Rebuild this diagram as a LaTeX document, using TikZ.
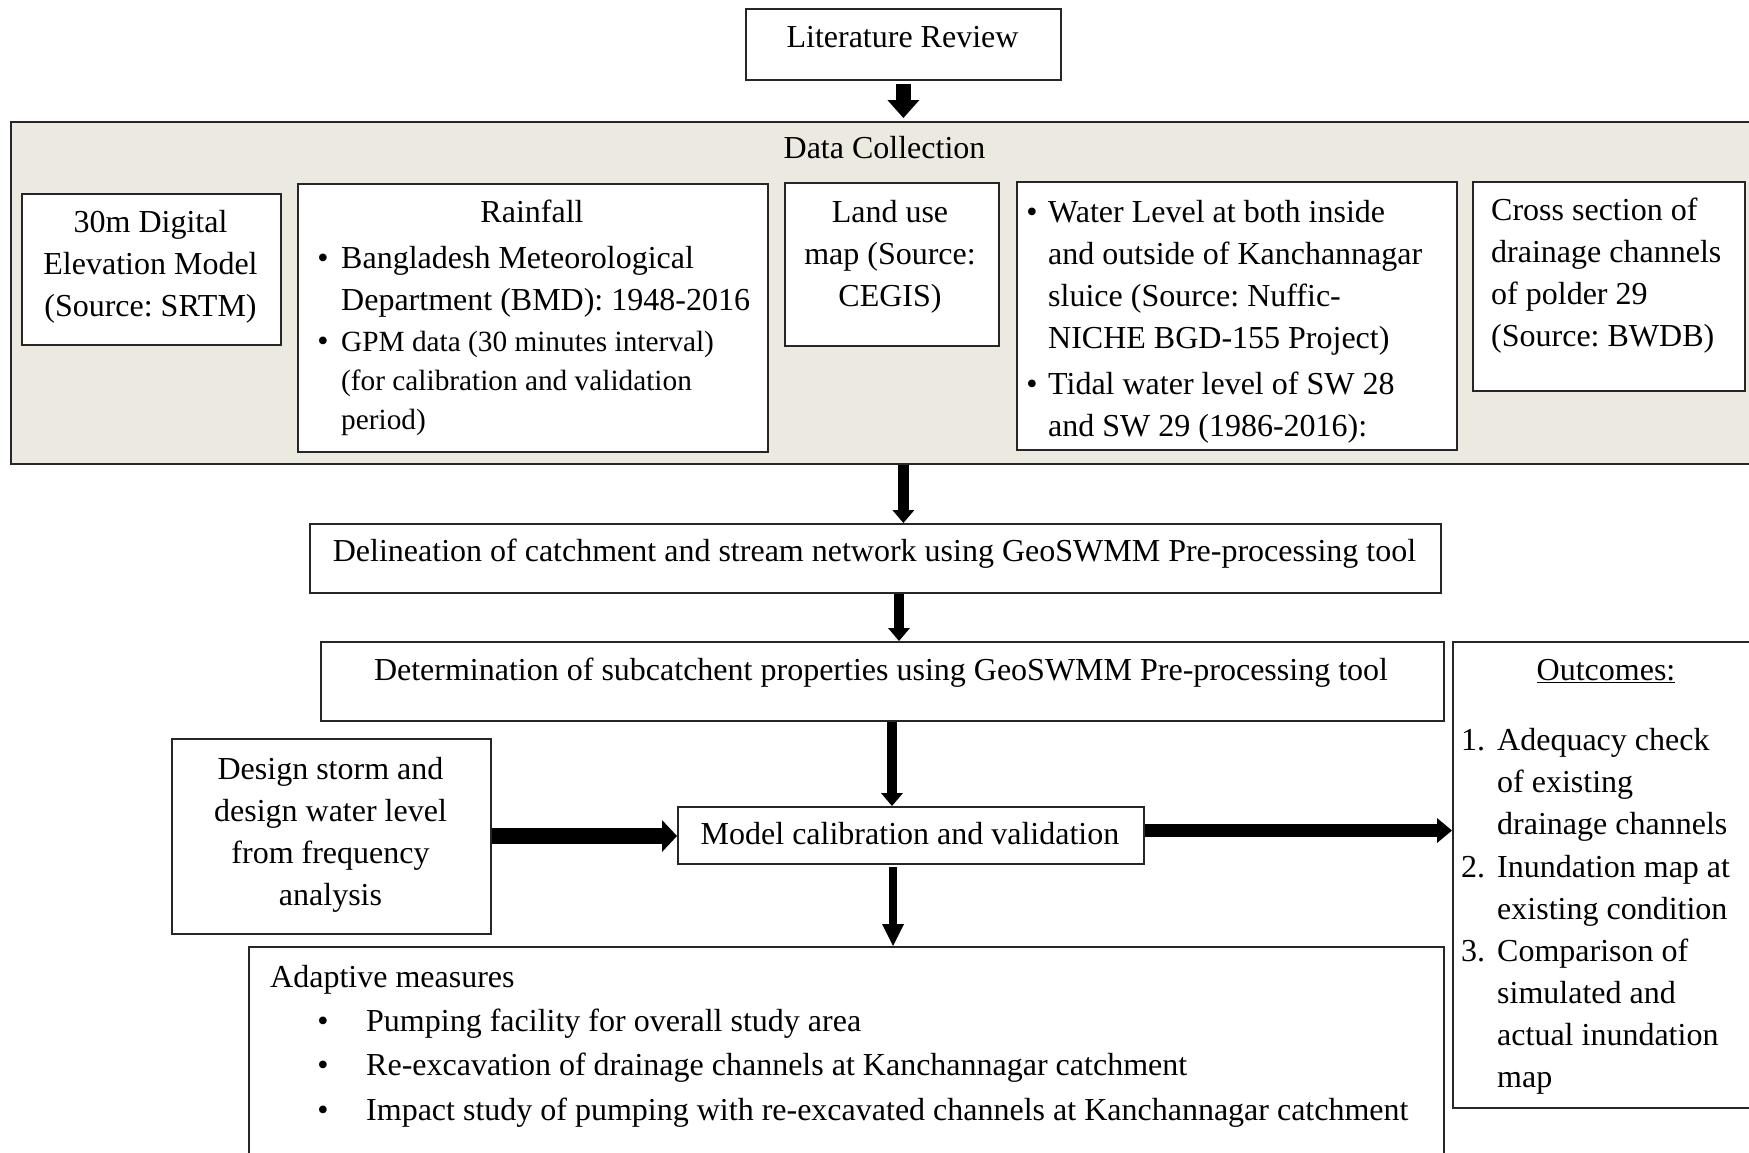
\documentclass[tikz,border=0pt]{standalone}
\usepackage{fontspec}
\setmainfont{Liberation Serif}
\usetikzlibrary{arrows.meta}
\definecolor{beige}{RGB}{236,234,224}
\frenchspacing
\begin{document}
\begin{tikzpicture}[x=1pt,y=-1pt,
  every node/.style={font=\fontsize{32}{42}\selectfont\frenchspacing, inner sep=0pt},
  frame/.style={draw=black!85, line width=1.8pt, fill=white, anchor=north west, inner sep=0pt},
  lbl/.style={anchor=base, align=center},
  lft/.style={anchor=base west, align=left},
  dot/.style={anchor=base},
  varrow/.style args={#1/#2/#3}{line width=#1, -{Triangle[width=#2,length=#3,line width=0pt]}},
]
\useasboundingbox (0,0) rectangle (1749,1152);

% Literature review
\node[frame, minimum width=315pt, minimum height=71pt] (lit) at (745,8) {};
\node[lbl] (litT) at (902.5,47) {Literature Review};

% Data collection
\node[frame, fill=beige, minimum width=1770pt, minimum height=342pt] (data) at (10,121) {};
\node[lbl] (dataT) at (884.5,158) {Data Collection};

\node[frame, minimum width=259pt, minimum height=151pt] (dem) at (21,193) {};
\node[lbl] (demT) at (150.5,316) {30m Digital\\Elevation Model\\(Source: SRTM)};

\node[frame, minimum width=470pt, minimum height=268pt] (rain) at (297,183) {};
\node[lbl] (rainT) at (532,222) {Rainfall};
\node[dot] (rb1) at (323,268) {\textbullet};
\node[lft] (ri1) at (341,310) {Bangladesh Meteorological\\Department (BMD): 1948-2016};
\node[dot] (rb2) at (323,351) {\textbullet};
\node[lft, font=\fontsize{29.3}{39}\selectfont\frenchspacing] (ri2) at (341,429) {GPM data (30 minutes interval)\\(for calibration and validation\\period)};

\node[frame, minimum width=214pt, minimum height=163pt] (land) at (784,182) {};
\node[lbl] (landT) at (890,306) {Land use\\map (Source:\\CEGIS)};

\node[frame, minimum width=440pt, minimum height=268pt] (water) at (1016,181) {};
\node[dot] (wb1) at (1032,222) {\textbullet};
\node[lft] (wi1) at (1048,348) {Water Level at both inside\\and outside of Kanchannagar\\sluice (Source: Nuffic-\\NICHE BGD-155 Project)};
\node[dot] (wb2) at (1032,394) {\textbullet};
\node[lft] (wi2) at (1048,436) {Tidal water level of SW 28\\and SW 29 (1986-2016):};

\node[frame, minimum width=272pt, minimum height=209pt] (cross) at (1472,181) {};
\node[lft] (crossT) at (1491,346) {Cross section of\\drainage channels\\of polder 29\\(Source: BWDB)};

% Delineation
\node[frame, minimum width=1131pt, minimum height=69pt] (delin) at (309,523) {};
\node[lbl] (delinT) at (874.5,561) {Delineation of catchment and stream network using GeoSWMM Pre-processing tool};

% Determination
\node[frame, minimum width=1123pt, minimum height=79pt] (determ) at (320,641) {};
\node[lbl] (determT) at (881,680) {Determination of subcatchent properties using GeoSWMM Pre-processing tool};

% Outcomes
\node[frame, minimum width=320pt, minimum height=466pt] (outc) at (1452,641) {};
\node[lbl] (outT) at (1606,680) {\underline{Outcomes:}};
\node[lft] (o1) at (1461,750) {1.};
\node[lft] (o1t) at (1497,834) {Adequacy check\\of existing\\drainage channels};
\node[lft] (o2) at (1461,877) {2.};
\node[lft] (o2t) at (1497,919) {Inundation map at\\existing condition};
\node[lft] (o3) at (1461,961) {3.};
\node[lft] (o3t) at (1497,1087) {Comparison of\\simulated and\\actual inundation\\map};

% Design storm
\node[frame, minimum width=319pt, minimum height=195pt] (design) at (171,738) {};
\node[lbl] (designT) at (330.5,905) {Design storm and\\design water level\\from frequency\\analysis};

% Model
\node[frame, minimum width=466pt, minimum height=57pt] (model) at (677,806) {};
\node[lbl] (modelT) at (910,844) {Model calibration and validation};

% Adaptive
\node[frame, minimum width=1195pt, minimum height=240pt] (adapt) at (248,946) {};
\node[lft] (adT) at (270,987) {Adaptive measures};
\node[dot] (ab1) at (323,1031) {\textbullet};
\node[lft] (ai1) at (366,1031) {Pumping facility for overall study area};
\node[dot] (ab2) at (323,1075) {\textbullet};
\node[lft] (ai2) at (366,1075) {Re-excavation of drainage channels at Kanchannagar catchment};
\node[dot] (ab3) at (323,1120) {\textbullet};
\node[lft] (ai3) at (366,1120) {Impact study of pumping with re-excavated channels at Kanchannagar catchment};

% connectors
\coordinate (c3) at (899,0);
\coordinate (c4) at (892,0);
\coordinate (c5) at (893,0);
\coordinate (h1) at (0,836);
\coordinate (h2) at (0,830.5);

\draw[varrow=15pt/32pt/18pt, shorten <=3pt, shorten >=3pt] (lit.south) -- (lit.south |- data.north);
\draw[varrow=11pt/22pt/13pt] (lit.south |- data.south) -- (lit.south |- delin.north);
\draw[varrow=10pt/22pt/13pt] (c3 |- delin.south) -- (c3 |- determ.north);
\draw[varrow=10pt/22pt/13pt] (c4 |- determ.south) -- (c4 |- model.north);
\draw[varrow=8pt/22pt/22pt, shorten <=2pt] (c5 |- model.south) -- (c5 |- adapt.north);
\draw[varrow=16pt/32pt/15pt] (design.east |- h1) -- (model.west |- h1);
\draw[varrow=13pt/25pt/15pt] (model.east |- h2) -- (outc.west |- h2);
\end{tikzpicture}
\end{document}
